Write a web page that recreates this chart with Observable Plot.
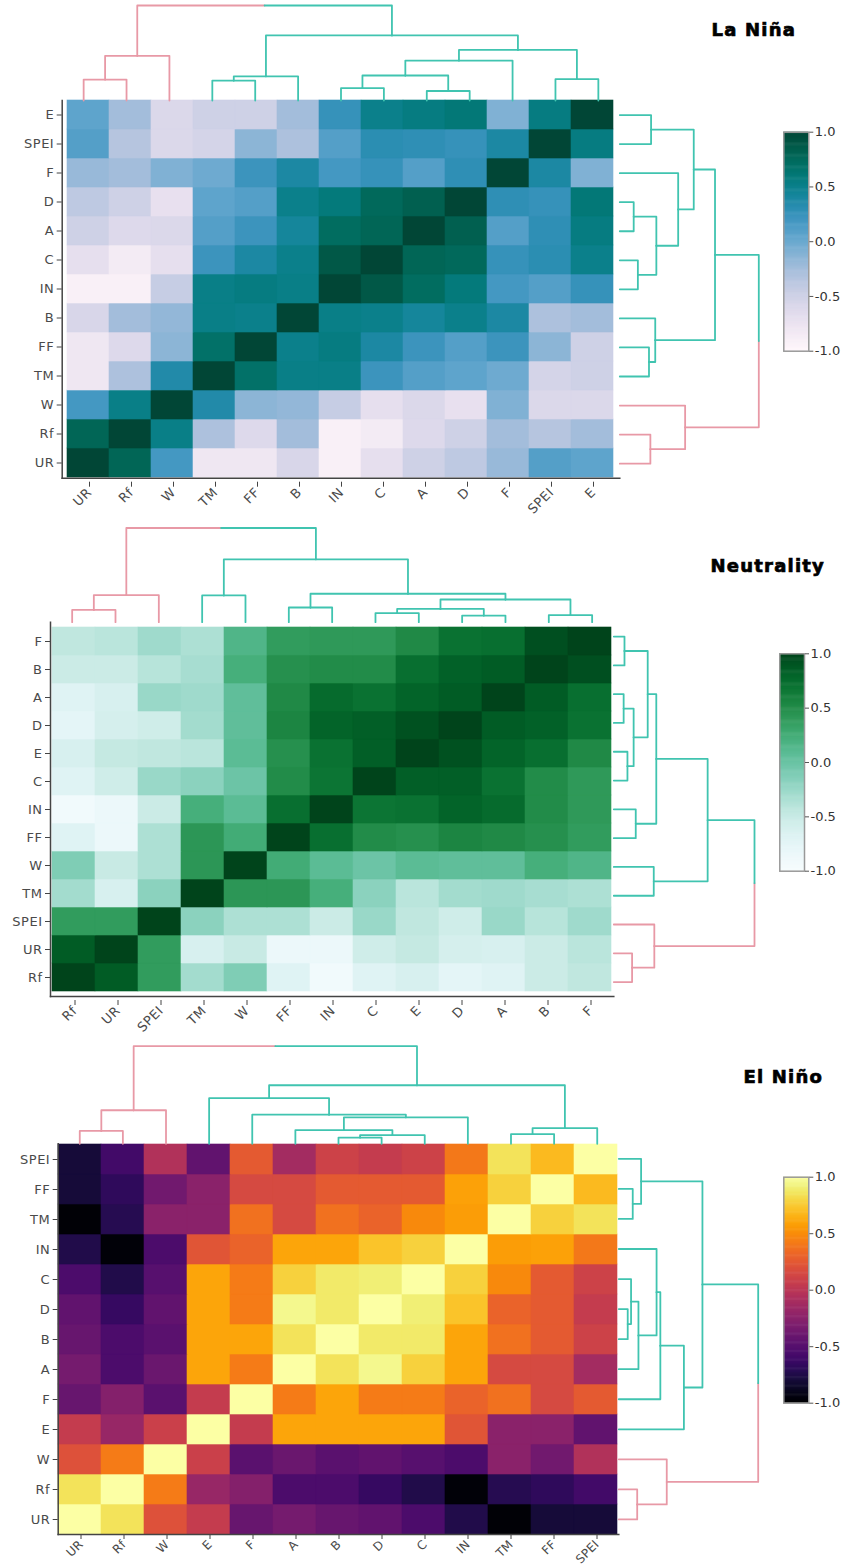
<!DOCTYPE html>
<html>
<head>
<meta charset="utf-8">
<script src="https://cdn.jsdelivr.net/npm/d3@7"></script>
<script src="https://cdn.jsdelivr.net/npm/@observablehq/plot@0.6"></script>
<style>
  html, body { margin: 0; padding: 0; background: #fff; }
  #page { position: relative; width: 842px; height: 1564px; overflow: hidden; }
  .panel { position: absolute; left: 0; width: 842px; }
  .layer { position: absolute; left: 0; top: 0; }
  .layer svg { display: block; background: transparent; }
  svg.hm text, svg.hmtight text { font-family: "DejaVu Sans", sans-serif; font-size: 13px; letter-spacing: 0.5px; fill: #4a4a4a; }
  svg.hmtight g[aria-label="x-axis tick label"] text { font-size: 12px; letter-spacing: 0.2px; }
  svg.bar text { font-family: "DejaVu Sans", sans-serif; font-size: 13px; fill: #333; }
  .title { position: absolute; font-family: "DejaVu Sans", sans-serif; font-weight: bold;
           font-size: 18px; letter-spacing: 1.2px; color: #000; white-space: nowrap; line-height: 20px;
           -webkit-text-stroke: 0.7px #000; }
</style>
</head>
<body>
<div id="page"></div>
<script>
// ---------- La Niña ----------
const laNinaVars = ["UR", "Rf", "W", "TM", "FF", "B", "IN", "C", "A", "D", "F", "SPEI", "E"];
const laNinaCorr = [
  // UR    Rf     W     TM     FF     B      IN     C      A      D      F      SPEI   E
  [ 1.00,  0.78,  0.18, -0.80, -0.80, -0.58, -0.92, -0.70, -0.50, -0.40, -0.20,  0.10,  0.05], // UR
  [ 0.78,  1.00,  0.52, -0.30, -0.62, -0.25, -0.92, -0.85, -0.62, -0.50, -0.25, -0.35, -0.25], // Rf
  [ 0.18,  0.52,  1.00,  0.35, -0.15, -0.18, -0.45, -0.70, -0.60, -0.72, -0.10, -0.60, -0.60], // W
  [-0.80, -0.30,  0.35,  1.00,  0.68,  0.52,  0.52,  0.22,  0.10,  0.05, -0.02, -0.55, -0.50], // TM
  [-0.80, -0.62, -0.15,  0.68,  1.00,  0.50,  0.55,  0.38,  0.22,  0.10,  0.22, -0.15, -0.50], // FF
  [-0.58, -0.25, -0.18,  0.52,  0.50,  1.00,  0.52,  0.50,  0.42,  0.50,  0.38, -0.30, -0.25], // B
  [-0.92, -0.92, -0.45,  0.52,  0.55,  0.52,  1.00,  0.88,  0.72,  0.58,  0.18,  0.10,  0.25], // IN
  [-0.70, -0.85, -0.70,  0.22,  0.38,  0.50,  0.88,  1.00,  0.78,  0.75,  0.25,  0.30,  0.50], // C
  [-0.50, -0.62, -0.60,  0.10,  0.22,  0.42,  0.72,  0.78,  1.00,  0.82,  0.10,  0.28,  0.55], // A
  [-0.40, -0.50, -0.72,  0.05,  0.10,  0.50,  0.58,  0.75,  0.82,  1.00,  0.28,  0.25,  0.60], // D
  [-0.20, -0.25, -0.10, -0.02,  0.22,  0.38,  0.18,  0.25,  0.10,  0.28,  1.00,  0.38, -0.10], // F
  [ 0.10, -0.35, -0.60, -0.55, -0.15, -0.30,  0.10,  0.30,  0.28,  0.25,  0.38,  1.00,  0.55], // SPEI
  [ 0.05, -0.25, -0.60, -0.50, -0.50, -0.25,  0.25,  0.50,  0.55,  0.60, -0.10,  0.55,  1.00]  // E
];
// merges: [child, child, height]; a number refers to an earlier merge
const laNinaTree = [
  ["UR", "Rf", 0.22], [0, "W", 0.47],
  ["TM", "FF", 0.21], [2, "B", 0.255],
  ["IN", "C", 0.13], ["A", "D", 0.10], [4, 5, 0.263], [6, "F", 0.42],
  ["SPEI", "E", 0.225], [7, 8, 0.532], [3, 9, 0.685],
  [1, 10, 1.0]
];

// ---------- Neutrality ----------
const neutralVars = ["Rf", "UR", "SPEI", "TM", "W", "FF", "IN", "C", "E", "D", "A", "B", "F"];
const neutralCorr = [
  // Rf    UR     SPEI   TM     W      FF     IN     C      E      D      A      B      F
  [ 1.00,  0.85,  0.38, -0.30, -0.12, -0.70, -0.92, -0.70, -0.62, -0.75, -0.70, -0.52, -0.45], // Rf
  [ 0.85,  1.00,  0.38, -0.62, -0.50, -0.85, -0.85, -0.55, -0.48, -0.60, -0.62, -0.52, -0.42], // UR
  [ 0.38,  0.38,  1.00, -0.18, -0.35, -0.35, -0.52, -0.25, -0.45, -0.55, -0.25, -0.40, -0.28], // SPEI
  [-0.30, -0.62, -0.18,  1.00,  0.42,  0.42,  0.22, -0.18, -0.42, -0.30, -0.28, -0.32, -0.35], // TM
  [-0.12, -0.50, -0.35,  0.42,  1.00,  0.25,  0.08, -0.02,  0.08,  0.05,  0.05,  0.22,  0.15], // W
  [-0.70, -0.85, -0.35,  0.42,  0.25,  1.00,  0.72,  0.50,  0.47,  0.55,  0.52,  0.47,  0.38], // FF
  [-0.92, -0.85, -0.52,  0.22,  0.08,  0.72,  1.00,  0.68,  0.70,  0.80,  0.75,  0.50,  0.40], // IN
  [-0.70, -0.55, -0.25, -0.18, -0.02,  0.50,  0.68,  1.00,  0.83,  0.83,  0.70,  0.50,  0.40], // C
  [-0.62, -0.48, -0.45, -0.42,  0.08,  0.47,  0.70,  0.83,  1.00,  0.92,  0.80,  0.72,  0.52], // E
  [-0.75, -0.60, -0.55, -0.30,  0.05,  0.55,  0.80,  0.83,  0.92,  1.00,  0.85,  0.82,  0.70], // D
  [-0.70, -0.62, -0.25, -0.28,  0.05,  0.52,  0.75,  0.70,  0.80,  0.85,  1.00,  0.85,  0.72], // A
  [-0.52, -0.52, -0.40, -0.32,  0.22,  0.47,  0.50,  0.50,  0.72,  0.82,  0.85,  1.00,  0.93], // B
  [-0.45, -0.42, -0.28, -0.35,  0.15,  0.38,  0.40,  0.40,  0.52,  0.70,  0.72,  0.93,  1.00]  // F
];
const neutralTree = [
  ["Rf", "UR", 0.13], [0, "SPEI", 0.288],
  ["TM", "W", 0.284],
  ["FF", "IN", 0.156], ["C", "E", 0.097], ["D", "A", 0.07], [4, 5, 0.141],
  ["B", "F", 0.076], [6, 7, 0.241], [3, 8, 0.302], [2, 9, 0.667],
  [1, 10, 1.0]
];

// ---------- El Niño ----------
const elNinoVars = ["UR", "Rf", "W", "E", "F", "A", "B", "D", "C", "IN", "TM", "FF", "SPEI"];
const elNinoCorr = [
  // UR    Rf     W      E      F      A      B      D      C      IN     TM     FF     SPEI
  [ 1.00,  0.85,  0.20,  0.05, -0.42, -0.35, -0.42, -0.45, -0.55, -0.75, -0.98, -0.80, -0.80], // UR
  [ 0.85,  1.00,  0.42, -0.18, -0.28, -0.55, -0.55, -0.65, -0.75, -0.97, -0.72, -0.68, -0.60], // Rf
  [ 0.20,  0.42,  1.00,  0.08, -0.48, -0.40, -0.48, -0.45, -0.50, -0.55, -0.25, -0.37, -0.05], // W
  [ 0.05, -0.18,  0.08,  1.00,  0.05,  0.60,  0.60,  0.60,  0.60,  0.22, -0.25, -0.25, -0.45], // E
  [-0.42, -0.28, -0.48,  0.05,  1.00,  0.42,  0.60,  0.42,  0.42,  0.30,  0.37,  0.15,  0.25], // F
  [-0.35, -0.55, -0.40,  0.60,  0.42,  1.00,  0.85,  0.95,  0.78,  0.60,  0.15,  0.15, -0.12], // A
  [-0.42, -0.55, -0.48,  0.60,  0.60,  0.85,  1.00,  0.88,  0.88,  0.60,  0.37,  0.25,  0.10], // B
  [-0.45, -0.65, -0.45,  0.60,  0.42,  0.95,  0.88,  1.00,  0.90,  0.72,  0.30,  0.25,  0.05], // D
  [-0.55, -0.75, -0.50,  0.60,  0.42,  0.78,  0.88,  0.90,  1.00,  0.78,  0.48,  0.25,  0.10], // C
  [-0.75, -0.97, -0.55,  0.22,  0.30,  0.60,  0.60,  0.72,  0.78,  1.00,  0.57,  0.58,  0.40], // IN
  [-0.98, -0.72, -0.25, -0.25,  0.37,  0.15,  0.37,  0.30,  0.48,  0.57,  1.00,  0.78,  0.85], // TM
  [-0.80, -0.68, -0.37, -0.25,  0.15,  0.15,  0.25,  0.25,  0.25,  0.58,  0.78,  1.00,  0.68], // FF
  [-0.80, -0.60, -0.05, -0.45,  0.25, -0.12,  0.10,  0.05,  0.10,  0.40,  0.85,  0.68,  1.00]  // SPEI
];
const elNinoTree = [
  ["UR", "Rf", 0.132], [0, "W", 0.344],
  ["B", "D", 0.064], [2, "C", 0.088], ["A", 3, 0.141], [4, "IN", 0.271],
  ["F", 5, 0.298], ["E", 6, 0.467],
  ["TM", "FF", 0.10], [8, "SPEI", 0.16],
  [7, 9, 0.60],
  [1, 10, 1.0]
];

const legendTicks = [-1, -0.5, 0, 0.5, 1];

// ---------- layout ----------
const W = 842;
const branchColors = ["#e899a6", "#40c4b0"]; // first and second cluster under the root
const panels = [
  { title: "La Niña", vars: laNinaVars, corr: laNinaCorr, tree: laNinaTree, scheme: "PuBuGn",
    top: 0, H: 520, left: 61.7, right: 619.3, hmTop: 100, hmBottom: 477.7, rootY: 5, rootX: 758.3,
    legend: { x: 783.3, w: 25, top: 131.7, bottom: 350.7 }, titleRight: 796, titleY: 30,
    labelDy: 4, labelClass: "hm" },
  { title: "Neutrality", vars: neutralVars, corr: neutralCorr, tree: neutralTree, scheme: "BuGn",
    top: 520, H: 515, left: 50, right: 613.3, hmTop: 101.7, hmBottom: 476, rootY: 7.5, rootX: 754,
    legend: { x: 779.3, w: 24.7, top: 133.3, bottom: 350.7 }, titleRight: 825, titleY: 46,
    labelDy: 4, labelClass: "hm" },
  { title: "El Niño", vars: elNinoVars, corr: elNinoCorr, tree: elNinoTree, scheme: "Inferno",
    top: 1035, H: 529, left: 57.7, right: 618.3, hmTop: 108.3, hmBottom: 499, rootY: 10.7, rootX: 757.7,
    legend: { x: 783.3, w: 25, top: 141.7, bottom: 367.7 }, titleRight: 823, titleY: 42,
    labelDy: 0, labelClass: "hmtight" }
];

// Turn a merge list into elbow segments: leaf index positions, merge heights.
function dendroSegments(vars, tree) {
  const index = new Map(vars.map((v, i) => [v, i]));
  const nodes = [];
  const resolve = c => typeof c === "number" ? nodes[c] : { p: index.get(c), h: 0, kids: [] };
  tree.forEach(([a, b, h]) => {
    const A = resolve(a), B = resolve(b);
    nodes.push({ p: (A.p + B.p) / 2, h, kids: [A, B] });
  });
  const rows = [];
  let seg = 0;
  function link(parent, kid, side) {
    rows.push({ seg, side, p: kid.p, h: kid.h });
    rows.push({ seg, side, p: kid.p, h: parent.h });
    rows.push({ seg, side, p: parent.p, h: parent.h });
    seg++;
    kid.kids.forEach(k => link(kid, k, side));
  }
  const root = nodes[nodes.length - 1];
  root.kids.forEach((kid, side) => link(root, kid, side));
  return rows;
}

const baseStyle = { background: "transparent", fontFamily: "'DejaVu Sans', sans-serif", fontSize: "13px", color: "#444" };

function heatmap(p) {
  const cells = [];
  p.vars.forEach((r, i) => p.vars.forEach((c, j) => cells.push({ row: r, col: c, value: p.corr[i][j] })));
  return Plot.plot({
    className: p.labelClass,
    width: W, height: p.H,
    marginLeft: p.left, marginRight: W - p.right, marginTop: p.hmTop, marginBottom: p.H - p.hmBottom,
    style: baseStyle,
    x: { domain: p.vars, padding: 0 },
    y: { domain: p.vars.slice().reverse(), padding: 0 },
    color: { type: "linear", scheme: p.scheme, domain: [-1, 1] },
    marks: [
      Plot.cell(cells, { x: "col", y: "row", fill: "value", stroke: "value", strokeWidth: 0.6 }),
      Plot.axisX({ tickRotate: -45, tickSize: 5, tickPadding: 3, label: null, stroke: "#444", dx: 1, dy: p.labelDy }),
      Plot.axisY({ tickSize: 5, tickPadding: 3, label: null, stroke: "#444" }),
      Plot.frame({ anchor: "left", stroke: "#444", strokeWidth: 1.5 }),
      Plot.frame({ anchor: "bottom", stroke: "#444", strokeWidth: 1.5 })
    ]
  });
}

function topDendrogram(p) {
  const rows = dendroSegments(p.vars, p.tree);
  return Plot.plot({
    width: W, height: p.H,
    marginLeft: p.left, marginRight: W - p.right, marginTop: p.rootY, marginBottom: p.H - p.hmTop,
    style: baseStyle,
    x: { domain: [-0.5, p.vars.length - 0.5], axis: null },
    y: { domain: [0, 1], axis: null },
    marks: [0, 1].map(s => Plot.line(rows.filter(d => d.side === s),
      { x: "p", y: "h", z: "seg", stroke: branchColors[s], strokeWidth: 1.8 }))
  });
}

function rightDendrogram(p) {
  const rows = dendroSegments(p.vars, p.tree);
  return Plot.plot({
    width: W, height: p.H,
    marginLeft: p.right, marginRight: W - p.rootX, marginTop: p.hmTop, marginBottom: p.H - p.hmBottom,
    style: baseStyle,
    x: { domain: [0, 1], axis: null },
    y: { domain: [-0.5, p.vars.length - 0.5], axis: null },
    marks: [0, 1].map(s => Plot.line(rows.filter(d => d.side === s),
      { x: "h", y: "p", z: "seg", stroke: branchColors[s], strokeWidth: 1.8 }))
  });
}

function colorBar(p) {
  const L = p.legend;
  const step = 0.01;
  const slices = d3.range(-1, 1, step); // gradient strips of the colour bar
  return Plot.plot({
    className: "bar",
    width: W, height: p.H,
    marginLeft: L.x, marginRight: W - L.x - L.w, marginTop: L.top, marginBottom: p.H - L.bottom,
    style: { ...baseStyle, color: "#333" },
    x: { domain: [0, 1], axis: null },
    y: { domain: [-1, 1] },
    color: { type: "linear", scheme: p.scheme, domain: [-1, 1] },
    marks: [
      Plot.rect(slices, { x1: 0, x2: 1, y1: d => d, y2: d => Math.min(1, d + step * 1.5), fill: d => d + step / 2 }),
      Plot.frame({ stroke: "#999", strokeWidth: 1.5 }),
      Plot.axisY({ anchor: "right", ticks: legendTicks, tickFormat: d => d.toFixed(1), tickSize: 4,
                   tickPadding: 2, label: null, stroke: "#555" })
    ]
  });
}

const page = document.getElementById("page");
panels.forEach(p => {
  const box = document.createElement("div");
  box.className = "panel";
  box.style.top = p.top + "px";
  box.style.height = p.H + "px";
  [heatmap(p), topDendrogram(p), rightDendrogram(p), colorBar(p)].forEach(svg => {
    const layer = document.createElement("div");
    layer.className = "layer";
    layer.appendChild(svg);
    box.appendChild(layer);
  });
  const t = document.createElement("div");
  t.className = "title";
  t.textContent = p.title;
  t.style.right = (W - p.titleRight) + "px";
  t.style.top = (p.titleY - 10) + "px";
  box.appendChild(t);
  page.appendChild(box);
});
</script>
</body>
</html>
